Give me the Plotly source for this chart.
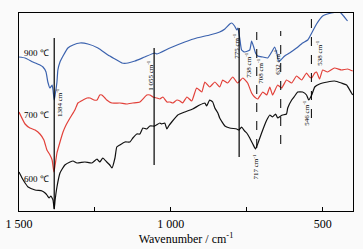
import plotly.graph_objects as go

# Wavenumbers (cm^-1) and relative transmittance (arbitrary units)
wn_900 = [1500,1480,1454,1431,1421,1411,1405,1398,1391,1388,1384,1381,1375,1372,1365,1355,1339,1322,1299,1273,1240,1207,1184,1161,1141,1118,1086,1053,1046,1003,954,915,872,839,822,806,799,790,783,779,776,773,767,757,740,734,727,721,714,697,681,668,658,651,645,638,625,609,586,566,549,536,520,500,471,444,434,418,401]
t_900 = [154,153,149,146,144,139,129,123,126,121,111,116,129,141,149,155,163,166,168,167,163,156,152,148,148,150,154,158,157,163,169,173,176,179,182,187,188,185,181,183,178,173,161,159,161,170,164,158,155,154,153,159,164,158,150,151,155,158,163,168,171,178,187,195,198,199,196,190]

wn_700 = [1500,1480,1464,1447,1431,1418,1408,1398,1391,1385,1381,1375,1365,1355,1345,1332,1316,1306,1289,1276,1266,1253,1243,1234,1227,1217,1211,1194,1168,1145,1125,1102,1079,1069,1059,1046,1036,1026,1013,1003,993,980,970,961,947,931,915,898,888,872,855,839,829,813,796,780,763,747,734,724,714,697,684,674,665,648,635,619,602,586,569,553,543,536,526,520,510,500,484,461,438,418,401]
t_700 = [99,87,83,81,77,71,61,56,51,39,46,58,69,79,86,93,101,108,111,113,113,111,111,116,116,113,111,108,108,107,108,109,116,116,114,113,112,114,109,109,108,111,110,108,114,110,123,119,129,124,129,124,131,128,134,128,133,128,118,114,112,119,116,124,116,126,123,131,128,135,131,138,134,133,138,139,132,141,139,143,141,142,140]

wn_600 = [1500,1490,1480,1470,1447,1424,1414,1408,1401,1395,1388,1384,1381,1375,1365,1349,1332,1322,1309,1283,1260,1243,1234,1224,1211,1201,1194,1184,1178,1168,1151,1135,1125,1112,1102,1092,1079,1069,1053,1036,1030,1020,1013,1007,997,977,954,928,905,888,882,872,862,855,845,839,822,806,783,776,767,757,750,740,730,721,714,701,691,684,674,665,655,648,638,632,619,615,602,592,582,566,553,546,536,526,510,484,461,438,421,405,401]
t_600 = [39,33,28,24,21,20,18,16,13,15,11,2,11,24,38,46,49,50,48,49,48,52,49,53,49,46,43,53,64,66,69,69,73,77,77,83,82,85,85,88,87,88,82,85,89,96,99,102,106,108,105,111,109,103,98,93,85,83,82,81,84,80,78,73,67,62,67,78,86,91,96,94,97,93,95,96,97,103,111,115,119,119,116,111,116,124,127,129,130,128,126,118,116]

series_names = ["900 ℃", "700 ℃", "600 ℃"]
series_colors = ["#3b62ae", "#e2413a", "#111111"]
label_wn = [1441, 1441, 1441]
label_t = [158, 96, 32]

# marker lines: wavenumber, top, bottom, dashed?
line_wn = [1384, 1055, 775, 717, 638, 537]
line_top = [173, 163, 183, 179, 180, 192]
line_bot = [2, 46, 54, 63, 67, 93]
line_dash = ["solid", "solid", "solid", "dash", "dash", "dash"]

# peak labels
peak_text = ["1384", "1 055", "775", "738", "708", "632", "538", "546", "717"]
peak_wn = [1368, 1069, 786, 747, 707, 651, 513, 556, 721]
peak_t = [108, 136, 165, 146, 140, 149, 158, 98, 44]

fig = go.Figure()
for wn, t, name, col in zip([wn_900, wn_700, wn_600], [t_900, t_700, t_600], series_names, series_colors):
    fig.add_trace(go.Scatter(x=wn, y=t, mode="lines", name=name,
                             line=dict(color=col, width=1.2, shape="spline", smoothing=0.4)))

for w, t0, t1, d in zip(line_wn, line_top, line_bot, line_dash):
    fig.add_shape(type="line", x0=w, x1=w, y0=t1, y1=t0, xref="x", yref="y",
                  line=dict(color="black", width=1.2 if d == "solid" else 1, dash=d))

for name, w, t in zip(series_names, label_wn, label_t):
    fig.add_annotation(x=w, y=t, text=name, showarrow=False, xref="x", yref="y",
                       font=dict(family="Liberation Serif, Times New Roman, serif", size=9, color="black"))

for txt, w, t in zip(peak_text, peak_wn, peak_t):
    fig.add_annotation(x=w, y=t, text=txt + " cm<sup>-1</sup>", showarrow=False, textangle=-90,
                       xref="x", yref="y",
                       font=dict(family="Liberation Serif, Times New Roman, serif", size=7, color="black"))

fig.update_layout(
    width=363, height=249,
    margin=dict(l=19, r=10, t=13, b=38),
    paper_bgcolor="#fafafa", plot_bgcolor="#fafafa",
    showlegend=False,
    font=dict(family="Liberation Serif, Times New Roman, serif", color="black"),
)
fig.update_xaxes(range=[1500, 400], tickvals=[1500, 1000, 500], ticktext=["1 500", "1 000", "500"],
                 ticks="inside", ticklen=4, tickcolor="black", showline=True, mirror=True,
                 linecolor="black", linewidth=1, showgrid=False, zeroline=False, automargin=False,
                 tickfont=dict(size=12), ticklabelstandoff=2, ticklabeloverflow="allow",
                 minor=dict(tickvals=[1250, 750], ticks="inside", ticklen=4, tickcolor="black"),
                 title=dict(text="Wavenumber / cm<sup>-1</sup>", font=dict(size=12), standoff=0))
fig.update_yaxes(range=[0, 198], showline=True, mirror=True, linecolor="black", linewidth=1,
                 showticklabels=False, ticks="", showgrid=False, zeroline=False, automargin=False)

# remove the browser's default page margin so the figure fills the window exactly
fig.write_html("out.html", config={"displayModeBar": False},
               post_script="document.body.style.margin='0';document.body.style.background='#fafafa';")
